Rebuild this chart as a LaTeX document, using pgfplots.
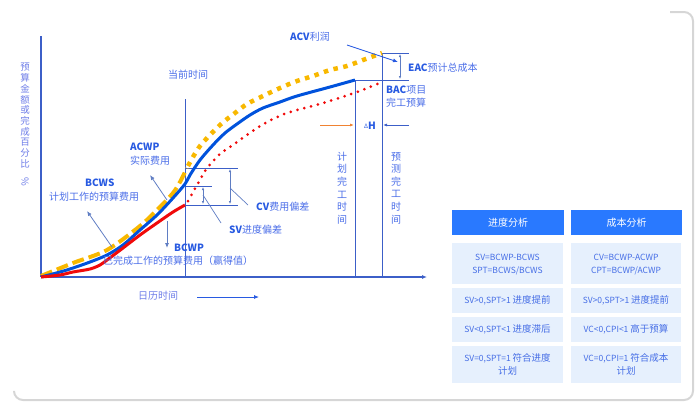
\documentclass[border=0pt]{standalone}
\usepackage{pgfplots}
\pgfplotsset{compat=1.18}
\usepackage{graphicx}
\usepackage{fontspec}
\setmainfont{Noto Sans CJK SC}
\usetikzlibrary{arrows.meta}
\definecolor{cblue}{RGB}{0,82,220}
\definecolor{cyel}{RGB}{248,184,0}
\definecolor{cred}{RGB}{240,10,10}
\definecolor{hblue}{RGB}{40,90,225}
\definecolor{tblue}{RGB}{75,110,232}
\definecolor{lblue}{RGB}{110,125,232}
\definecolor{lnblue}{RGB}{60,95,200}
\definecolor{ldr}{RGB}{95,125,195}
\definecolor{corange}{RGB}{240,130,50}
\definecolor{hdr}{RGB}{41,121,255}
\definecolor{rowf}{RGB}{230,240,253}
\definecolor{rowt}{RGB}{70,110,230}
\begin{document}
\begin{tikzpicture}
\begin{axis}[width=700pt,height=410pt,scale only axis,xmin=0,xmax=700,ymin=0,ymax=410,
  y dir=reverse,hide axis,clip=false]
\path (axis cs:0,0) rectangle (axis cs:700,410);
% card border
\draw[black!16,line width=2pt,rounded corners=9pt] (axis cs:670,12) -- (axis cs:693,12) -- (axis cs:693,400) -- (axis cs:14,400) -- (axis cs:14,392);
% axes
\draw[lnblue,line width=1.1pt] (axis cs:41,36) -- (axis cs:41,277);
\draw[lnblue,line width=1.1pt,-{Latex[length=5pt,width=4pt]}] (axis cs:41,277) -- (axis cs:427,277);
% guide lines
\draw[lnblue,line width=0.8pt] (axis cs:185,99) -- (axis cs:185,277);
\draw[lnblue,line width=0.8pt] (axis cs:355,80) -- (axis cs:355,277);
\draw[lnblue,line width=0.8pt] (axis cs:382,53) -- (axis cs:382,277);
\draw[lnblue,line width=0.8pt] (axis cs:382,53) -- (axis cs:409,53);
\draw[lnblue,line width=0.8pt] (axis cs:355,80) -- (axis cs:409,80);
\draw[ldr,line width=0.7pt,{Latex[length=3pt,width=2.5pt]}-{Latex[length=3pt,width=2.5pt]}] (axis cs:400,54) -- (axis cs:400,79);
\draw[lnblue,line width=0.8pt] (axis cs:185,168) -- (axis cs:238,168);
\draw[lnblue,line width=0.8pt] (axis cs:185,186) -- (axis cs:212,186);
\draw[lnblue,line width=0.8pt] (axis cs:185,205) -- (axis cs:238,205);
\draw[ldr,line width=0.7pt,{Latex[length=3pt,width=2.5pt]}-{Latex[length=3pt,width=2.5pt]}] (axis cs:230,169) -- (axis cs:230,204);
\draw[ldr,line width=0.7pt,{Latex[length=3pt,width=2.5pt]}-{Latex[length=3pt,width=2.5pt]}] (axis cs:203,187) -- (axis cs:203,204);
\draw[ldr,line width=0.7pt] (axis cs:230,188) -- (axis cs:248,205);
\draw[ldr,line width=0.7pt] (axis cs:203,195) -- (axis cs:221,223);
% data curves
\addplot[cyel,line width=4pt,smooth,tension=0.5,dash pattern=on 12pt off 5pt] coordinates {
(41,276)(73,263)(107,250)(140,226)(160,207)(173,193)(180,182)(187,168)};
\addplot[cyel,line width=4.5pt,smooth,tension=0.5,dash pattern=on 4.5pt off 5.5pt] coordinates {
(188,166)(200,146)(220,125)(235,113)(247,104)(263,96)(280,88)(297,81)(313,76)(330,70)(347,66)(363,60)(382,53)};
\addplot[cblue,line width=3pt,smooth,tension=0.5] coordinates {
(41,277)(60,272)(73,268)(90,262)(107,255)(123,245)(140,230)(157,215)(173,198)(185,184)(190,175)(200,160)(213,145)(225,133)(237,124)(250,115)(263,108)(280,102)(297,96)(330,87)(355,80)};
\addplot[cred,line width=3pt,smooth,tension=0.5] coordinates {
(41,277)(60,275)(73,272)(90,269)(100,265)(107,260)(115,254)(123,248)(140,235)(157,223)(173,212)(185,205)};
\addplot[cred,line width=3pt,smooth,tension=0.5,line cap=round,dash pattern=on 0pt off 7pt] coordinates {
(188,201)(193,192)(200,180)(207,168)(220,154)(230,147)(257,128)(273,119)(290,112)(323,103)(357,92)(382,82)};
% arrows
\draw[corange,line width=0.8pt,-{Latex[length=4pt,width=3pt]}] (axis cs:320,125) -- (axis cs:354,125);
\draw[lnblue,line width=0.8pt,-{Latex[length=4pt,width=3pt]}] (axis cs:409,125) -- (axis cs:383,125);
\draw[hblue,line width=0.9pt,-{Latex[length=5pt,width=4pt]}] (axis cs:347,45) -- (axis cs:398,62);
\draw[ldr,line width=0.8pt,-{Latex[length=5pt,width=4pt]}] (axis cs:167,200) -- (axis cs:150,175);
\draw[ldr,line width=0.8pt,-{Latex[length=5pt,width=4pt]}] (axis cs:112,247) -- (axis cs:87,211);
\draw[ldr,line width=0.8pt,-{Latex[length=5pt,width=4pt]}] (axis cs:167,221) -- (axis cs:167,248);
\draw[hblue,line width=0.8pt,-{Latex[length=5pt,width=4pt]}] (axis cs:197,297) -- (axis cs:259,297);
% texts
\tikzset{lab/.style={anchor=west,inner sep=0pt,font=\fontsize{10}{12}\selectfont,text=tblue}}
\node[lab] at (axis cs:290,37) {\textcolor{hblue}{\textbf{ACV}}利润};
\node[lab] at (axis cs:408,68) {\textcolor{hblue}{\textbf{EAC}}预计总成本};
\node[lab] at (axis cs:386,90) {\textcolor{hblue}{\textbf{BAC}}项目};
\node[lab] at (axis cs:386,103) {完工预算};
\node[lab] at (axis cs:168,75) {当前时间};
\node[lab,text=hblue] at (axis cs:130,147) {\textbf{ACWP}};
\node[lab] at (axis cs:130,161) {实际费用};
\node[lab,text=hblue] at (axis cs:85,183) {\textbf{BCWS}};
\node[lab] at (axis cs:49,197) {计划工作的预算费用};
\node[lab,text=hblue] at (axis cs:174,248) {\textbf{BCWP}};
\node[lab] at (axis cs:103,261) {已完成工作的预算费用（赢得值）};
\node[lab] at (axis cs:256,207) {\textcolor{hblue}{\textbf{CV}}费用偏差};
\node[lab] at (axis cs:229,230) {\textcolor{hblue}{\textbf{SV}}进度偏差};
\node[lab,text=lblue] at (axis cs:138,296) {日历时间};
\node[inner sep=0pt,text=hblue,font=\fontsize{10}{12}\selectfont] at (axis cs:370,126) {\raisebox{1.5pt}{\fontsize{6}{7}\selectfont Δ}\textbf{H}};
\node[inner sep=0pt,align=center,text=tblue,font=\fontsize{10}{12.6}\selectfont] at (axis cs:342,188) {计\\划\\完\\工\\时\\间};
\node[inner sep=0pt,align=center,text=tblue,font=\fontsize{10}{12.6}\selectfont] at (axis cs:396,188) {预\\测\\完\\工\\时\\间};
\node[inner sep=0pt,align=center,text=lblue,font=\fontsize{9.5}{10.7}\selectfont] at (axis cs:25,125) {预\\算\\金\\额\\或\\完\\成\\百\\分\\比\\\rotatebox{-90}{\%}};
% table panel
\fill[hdr] (axis cs:452,210) rectangle (axis cs:564,235);
\fill[hdr] (axis cs:571,210) rectangle (axis cs:682,235);
\node[text=white,font=\fontsize{10}{12}\selectfont] at (axis cs:508,222.5) {进度分析};
\node[text=white,font=\fontsize{10}{12}\selectfont] at (axis cs:626.5,222.5) {成本分析};
\fill[rowf] (axis cs:452,243) rectangle (axis cs:563,284);
\fill[rowf] (axis cs:571,243) rectangle (axis cs:681,284);
\fill[rowf] (axis cs:452,288) rectangle (axis cs:563,313);
\fill[rowf] (axis cs:571,288) rectangle (axis cs:681,313);
\fill[rowf] (axis cs:452,317) rectangle (axis cs:563,342);
\fill[rowf] (axis cs:571,317) rectangle (axis cs:681,342);
\fill[rowf] (axis cs:452,346) rectangle (axis cs:563,383);
\fill[rowf] (axis cs:571,346) rectangle (axis cs:681,383);
\tikzset{cell/.style={inner sep=0pt,align=center,text=rowt,font=\fontsize{8.5}{13}\selectfont}}
\node[cell] at (axis cs:507.5,264.5) {SV=BCWP-BCWS\\SPT=BCWS/BCWS};
\node[cell] at (axis cs:626,264.5) {CV=BCWP-ACWP\\CPT=BCWP/ACWP};
\node[cell] at (axis cs:507.5,300.5) {SV>0,SPT>1 {\fontsize{9.5}{13}\selectfont 进度提前}};
\node[cell] at (axis cs:626,300.5) {SV>0,SPT>1 {\fontsize{9.5}{13}\selectfont 进度提前}};
\node[cell] at (axis cs:507.5,329.5) {SV<0,SPT<1 {\fontsize{9.5}{13}\selectfont 进度滞后}};
\node[cell] at (axis cs:626,329.5) {VC<0,CPI<1 {\fontsize{9.5}{13}\selectfont 高于预算}};
\node[cell] at (axis cs:507.5,364.5) {SV=0,SPT=1 {\fontsize{9.5}{13}\selectfont 符合进度}\\{\fontsize{9.5}{13}\selectfont 计划}};
\node[cell] at (axis cs:626,364.5) {VC=0,CPI=1 {\fontsize{9.5}{13}\selectfont 符合成本}\\{\fontsize{9.5}{13}\selectfont 计划}};
\end{axis}
\end{tikzpicture}
\end{document}
